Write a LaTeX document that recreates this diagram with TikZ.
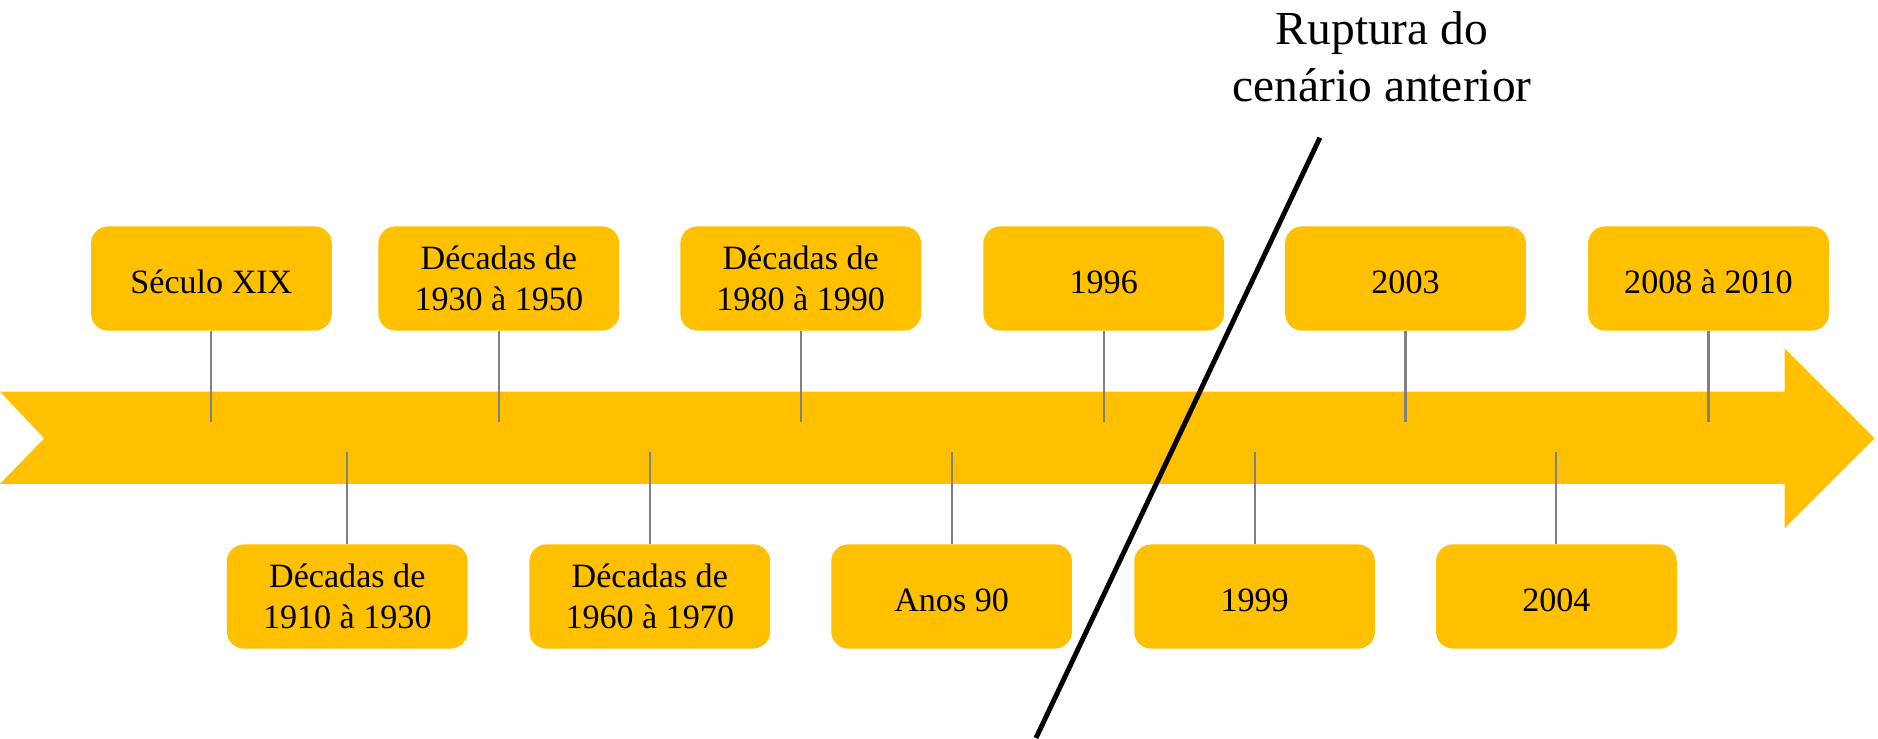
\documentclass[tikz,border=0pt]{standalone}
\usepackage{fontspec}
\setmainfont{Liberation Serif}
\definecolor{gold}{HTML}{FFC000}
\begin{document}
\begin{tikzpicture}[
  event/.style={fill=gold, rounded corners=1.7mm, minimum width=2.407cm, minimum height=1.042cm,
    inner sep=0pt, align=center, font=\fontsize{9.7}{11.6}\selectfont,
    execute at begin node={\rule{0pt}{8.6pt}}},
  tick/.style={draw=gray, line width=0.6pt}]
\useasboundingbox (0,0) rectangle (18.78,7.38);
% time band
\fill[gold] (0,3.464) -- (17.846,3.464) -- (17.846,3.895) -- (18.744,2.996) -- (17.846,2.098)
  -- (17.846,2.541) -- (0,2.541) -- (0.443,2.996) -- cycle;
\coordinate (up) at (0,3.164);
\coordinate (dn) at (0,2.857);
% events above
\node[event] (s19) at (2.114,4.595) {Século XIX};
\node[event] (d1930) at (4.988,4.595) {Décadas de\\1930 à 1950};
\node[event] (d1980) at (8.007,4.595) {Décadas de\\1980 à 1990};
\node[event] (y1996) at (11.037,4.595) {1996};
\node[event] (y2003) at (14.055,4.595) {2003};
\node[event] (y2008) at (17.085,4.595) {2008 à 2010};
% events below
\node[event] (d1910) at (3.473,1.415) {Décadas de\\1910 à 1930};
\node[event] (d1960) at (6.498,1.415) {Décadas de\\1960 à 1970};
\node[event] (a90) at (9.516,1.415) {Anos 90};
\node[event] (y1999) at (12.546,1.415) {1999};
\node[event] (y2004) at (15.564,1.415) {2004};
\draw[tick] (s19.south) -- (s19.south |- up);
\draw[tick] (d1930.south) -- (d1930.south |- up);
\draw[tick] (d1980.south) -- (d1980.south |- up);
\draw[tick] (y1996.south) -- (y1996.south |- up);
\draw[tick] (y2003.south) -- (y2003.south |- up);
\draw[tick] (y2008.south) -- (y2008.south |- up);
\draw[tick] (d1910.north) -- (d1910.north |- dn);
\draw[tick] (d1960.north) -- (d1960.north |- dn);
\draw[tick] (a90.north) -- (a90.north |- dn);
\draw[tick] (y1999.north) -- (y1999.north |- dn);
\draw[tick] (y2004.north) -- (y2004.north |- dn);
% rupture
\node[anchor=north, inner sep=0pt, align=center, font=\fontsize{13.5}{16.2}\selectfont] (rup) at (13.82,7.27)
  {Ruptura do\\cenário anterior};
\coordinate (cutA) at (13.199,6.003);
\coordinate (cutB) at (10.36,0);
\draw[line width=1.4pt] (cutA) -- (cutB);
\end{tikzpicture}
\end{document}
